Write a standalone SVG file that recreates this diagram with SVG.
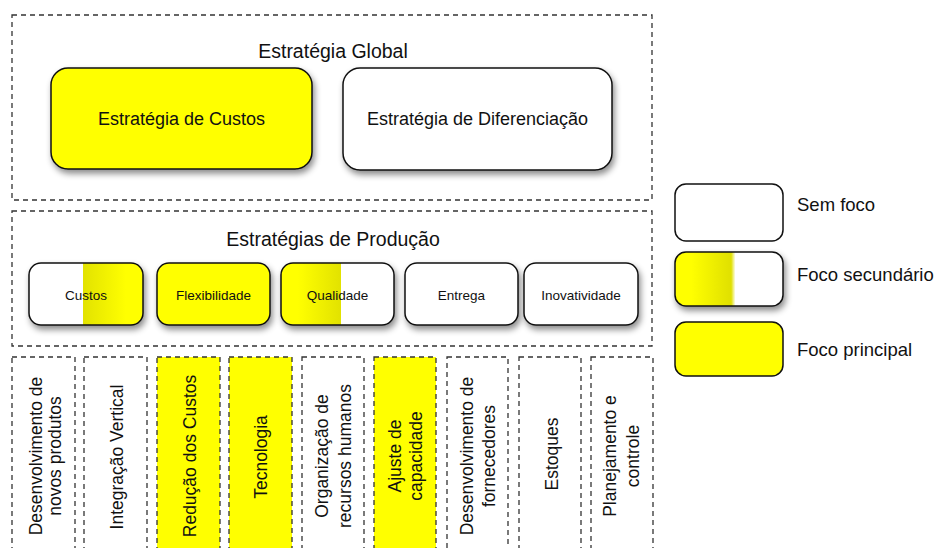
<svg xmlns="http://www.w3.org/2000/svg" width="938" height="548" viewBox="0 0 938 548">
  <style>
    .zone { fill: none; stroke: #333; stroke-width: 1.3; stroke-dasharray: 5 4; }
    .col { fill: #fff; stroke: #333; stroke-width: 1.3; stroke-dasharray: 5 4; }
    .col.hi { fill: #ffff00; }
    .box { stroke: #111; stroke-width: 1.5; }
    .white { fill: #fff; }
    .yellow { fill: #ffff00; }
    text { font-family: "Liberation Sans", Arial, sans-serif; fill: #111; }
    .title { font-size: 19.5px; text-anchor: middle; }
    .big { font-size: 18px; text-anchor: middle; }
    .small { font-size: 13.5px; text-anchor: middle; }
    .vert { font-size: 17.5px; text-anchor: middle; }
    .legend { font-size: 18.5px; }
  </style>
  <defs>
    <filter id="shadow" x="-20%" y="-20%" width="140%" height="160%">
      <feDropShadow dx="2" dy="4" stdDeviation="3" flood-color="#000" flood-opacity="0.45"/>
    </filter>
    <linearGradient id="gradRight" x1="0" y1="0" x2="1" y2="0">
      <stop offset="0" stop-color="#ffffff"/>
      <stop offset="0.47" stop-color="#ffffff"/>
      <stop offset="0.47" stop-color="#e2e200"/>
      <stop offset="0.85" stop-color="#ffff00"/>
      <stop offset="1" stop-color="#ffff00"/>
    </linearGradient>
    <linearGradient id="gradLeft" x1="0" y1="0" x2="1" y2="0">
      <stop offset="0" stop-color="#ffff00"/>
      <stop offset="0.15" stop-color="#ffff00"/>
      <stop offset="0.53" stop-color="#e2e200"/>
      <stop offset="0.53" stop-color="#ffffff"/>
      <stop offset="1" stop-color="#ffffff"/>
    </linearGradient>
    <linearGradient id="gradLegend" x1="0" y1="0" x2="1" y2="0">
      <stop offset="0" stop-color="#ffff00"/>
      <stop offset="0.15" stop-color="#ffff00"/>
      <stop offset="0.52" stop-color="#e0e000"/>
      <stop offset="0.56" stop-color="#ffffff"/>
      <stop offset="1" stop-color="#ffffff"/>
    </linearGradient>
  </defs>

  <!-- Global strategy zone -->
  <g id="global">
    <rect class="zone" x="12" y="15" width="640" height="185"/>
    <text class="title" x="333" y="58">Estratégia Global</text>
  </g>
  <g id="custos-global">
    <rect class="box yellow" x="51" y="68" width="261" height="101" rx="17" filter="url(#shadow)"/>
    <text class="big" x="181.5" y="125">Estratégia de Custos</text>
  </g>
  <g id="diferenciacao">
    <rect class="box white" x="343" y="68" width="269" height="102" rx="17" filter="url(#shadow)"/>
    <text class="big" x="477.5" y="125">Estratégia de Diferenciação</text>
  </g>

  <!-- Production strategies zone -->
  <g id="producao">
    <rect class="zone" x="12" y="211" width="640" height="135"/>
    <text class="title" x="333" y="246">Estratégias de Produção</text>
  </g>
  <g id="p-custos">
    <rect class="box" fill="url(#gradRight)" x="29" y="263" width="114" height="62" rx="12" filter="url(#shadow)"/>
    <text class="small" x="86" y="300">Custos</text>
  </g>
  <g id="p-flexibilidade">
    <rect class="box yellow" x="157" y="263" width="113" height="62" rx="12" filter="url(#shadow)"/>
    <text class="small" x="213.5" y="300">Flexibilidade</text>
  </g>
  <g id="p-qualidade">
    <rect class="box" fill="url(#gradLeft)" x="281" y="263" width="113" height="62" rx="12" filter="url(#shadow)"/>
    <text class="small" x="337.5" y="300">Qualidade</text>
  </g>
  <g id="p-entrega">
    <rect class="box white" x="405" y="263" width="113" height="62" rx="12" filter="url(#shadow)"/>
    <text class="small" x="461.5" y="300">Entrega</text>
  </g>
  <g id="p-inovatividade">
    <rect class="box white" x="524" y="263" width="114" height="62" rx="12" filter="url(#shadow)"/>
    <text class="small" x="581" y="300">Inovatividade</text>
  </g>

  <!-- Decision area columns -->
  <g id="c-desenvolvimento-produtos">
    <rect class="col" x="12" y="357" width="63" height="210"/>
    <text class="vert" transform="translate(41.5 456) rotate(-90)">Desenvolvimento de</text>
    <text class="vert" transform="translate(61 456) rotate(-90)">novos produtos</text>
  </g>
  <g id="c-integracao">
    <rect class="col" x="84" y="357" width="63" height="210"/>
    <text class="vert" transform="translate(122.5 457) rotate(-90)">Integração Vertical</text>
  </g>
  <g id="c-reducao">
    <rect class="col hi" x="157" y="357" width="63" height="210"/>
    <text class="vert" transform="translate(195.5 456) rotate(-90)">Redução dos Custos</text>
  </g>
  <g id="c-tecnologia">
    <rect class="col hi" x="229" y="357" width="63" height="210"/>
    <text class="vert" transform="translate(267 457) rotate(-90)">Tecnologia</text>
  </g>
  <g id="c-recursos-humanos">
    <rect class="col" x="302" y="357" width="62" height="210"/>
    <text class="vert" transform="translate(328 456) rotate(-90)">Organização de</text>
    <text class="vert" transform="translate(351 456) rotate(-90)">recursos humanos</text>
  </g>
  <g id="c-capacidade">
    <rect class="col hi" x="374" y="357" width="62" height="210"/>
    <text class="vert" transform="translate(401 456) rotate(-90)">Ajuste de</text>
    <text class="vert" transform="translate(422 456) rotate(-90)">capacidade</text>
  </g>
  <g id="c-fornecedores">
    <rect class="col" x="447" y="357" width="61" height="210"/>
    <text class="vert" transform="translate(473 456) rotate(-90)">Desenvolvimento de</text>
    <text class="vert" transform="translate(495 456) rotate(-90)">fornecedores</text>
  </g>
  <g id="c-estoques">
    <rect class="col" x="519" y="357" width="62" height="210"/>
    <text class="vert" transform="translate(557.5 454) rotate(-90)">Estoques</text>
  </g>
  <g id="c-planejamento">
    <rect class="col" x="591" y="357" width="62" height="210"/>
    <text class="vert" transform="translate(616 456) rotate(-90)">Planejamento e</text>
    <text class="vert" transform="translate(639 456) rotate(-90)">controle</text>
  </g>

  <!-- Legend -->
  <g id="legend-sem-foco">
    <rect class="box white" x="675" y="184" width="108" height="57" rx="11"/>
    <text class="legend" x="797" y="211">Sem foco</text>
  </g>
  <g id="legend-secundario">
    <rect class="box" fill="url(#gradLegend)" x="675" y="252" width="108" height="54" rx="11" filter="url(#shadow)"/>
    <text class="legend" x="797" y="281">Foco secundário</text>
  </g>
  <g id="legend-principal">
    <rect class="box yellow" x="675" y="322" width="108" height="54" rx="11"/>
    <text class="legend" x="797" y="356">Foco principal</text>
  </g>

  <g id="connectors"/>
</svg>
